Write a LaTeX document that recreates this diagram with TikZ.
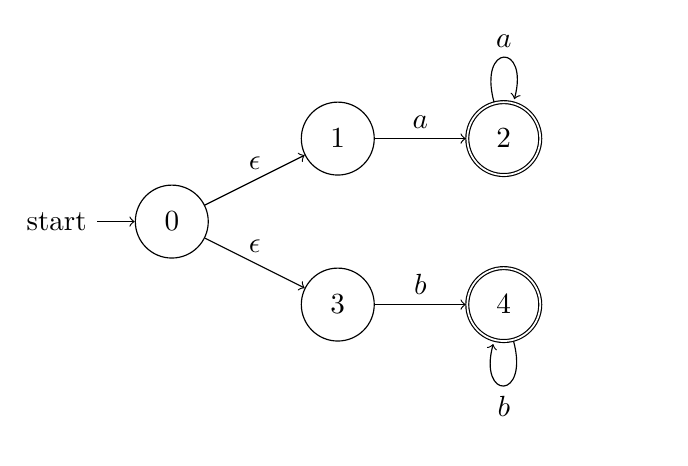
\documentclass[tikz,border=0pt]{standalone}
\usetikzlibrary{automata,positioning}
\begin{document}
\begin{tikzpicture}[->, auto,
  every state/.style={draw, circle, minimum size=25pt, inner sep=0pt},
  lbl/.style={above}]
\useasboundingbox (-2.07,-2.94) rectangle (6.22,2.67);
\node[state, initial, initial text=start] (q0) at (0,0) {$0$};
\node[state] (q1) at (2,1) {$1$};
\node[state, accepting] (q2) at (4,1) {$2$};
\node[state] (q3) at (2,-1) {$3$};
\node[state, accepting] (q4) at (4,-1) {$4$};
\path (q0) edge node[lbl] {$\epsilon$} (q1)
      (q0) edge node[lbl] {$\epsilon$} (q3)
      (q1) edge node[lbl] {$a$} (q2)
      (q3) edge node[lbl] {$b$} (q4)
      (q2) edge[loop above] node[above] {$a$} (q2)
      (q4) edge[loop below] node[below] {$b$} (q4);
\end{tikzpicture}
\end{document}
